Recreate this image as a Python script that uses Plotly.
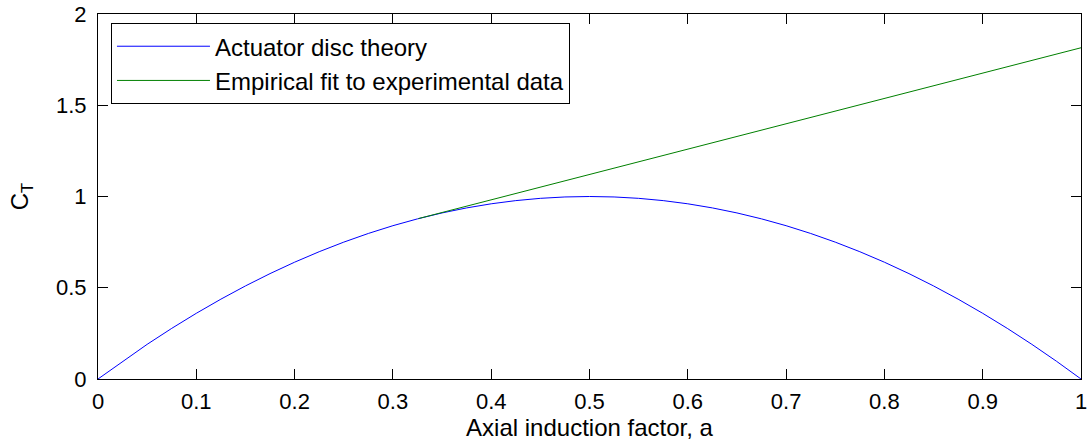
import plotly.graph_objects as go

# Actuator disc theory
a_disc = [0.0, 0.025, 0.05, 0.075, 0.10, 0.125, 0.15, 0.175, 0.20, 0.225, 0.25,
          0.275, 0.30, 0.325, 0.35, 0.375, 0.40, 0.425, 0.45, 0.475, 0.50,
          0.525, 0.55, 0.575, 0.60, 0.625, 0.65, 0.675, 0.70, 0.725, 0.75,
          0.775, 0.80, 0.825, 0.85, 0.875, 0.90, 0.925, 0.95, 0.975, 1.0]
ct_disc = [0.0, 0.0975, 0.19, 0.2775, 0.36, 0.4375, 0.51, 0.5775, 0.64, 0.6975, 0.75,
           0.7975, 0.84, 0.8775, 0.91, 0.9375, 0.96, 0.9775, 0.99, 0.9975, 1.00,
           0.9975, 0.99, 0.9775, 0.96, 0.9375, 0.91, 0.8775, 0.84, 0.7975, 0.75,
           0.6975, 0.64, 0.5775, 0.51, 0.4375, 0.36, 0.2775, 0.19, 0.0975, 0.0]

# Empirical fit to experimental data
a_emp = [0.326, 0.50, 0.75, 1.0]
ct_emp = [0.879, 1.121, 1.469, 1.815]

x_ticks = [0, 0.1, 0.2, 0.3, 0.4, 0.5, 0.6, 0.7, 0.8, 0.9, 1]
x_tick_labels = ["0", "0.1", "0.2", "0.3", "0.4", "0.5", "0.6", "0.7", "0.8", "0.9", "1"]
y_ticks = [0, 0.5, 1, 1.5, 2]
y_tick_labels = ["0", "0.5", "1", "1.5", "2"]

FONT = "Liberation Sans, Arial, sans-serif"

fig = go.Figure()
fig.add_trace(go.Scatter(x=a_disc, y=ct_disc, mode="lines",
                         line=dict(color="#0000FF", width=1),
                         name="Actuator disc theory"))
fig.add_trace(go.Scatter(x=a_emp, y=ct_emp, mode="lines",
                         line=dict(color="#008000", width=1),
                         name="Empirical fit to experimental data"))

axis_common = dict(showgrid=False, zeroline=False, showline=True, linecolor="black",
                   linewidth=1, mirror="ticks", ticks="inside", ticklen=10,
                   tickwidth=1, tickcolor="black", automargin=False,
                   tickfont=dict(family=FONT, size=22, color="black"))

fig.update_layout(
    width=1091, height=445,
    margin=dict(l=98, r=10, t=14, b=66),
    paper_bgcolor="white", plot_bgcolor="white",
    showlegend=True,
    legend=dict(x=0.0132, y=0.975, xanchor="left", yanchor="top",
                bordercolor="black", borderwidth=1, bgcolor="white",
                font=dict(family=FONT, size=24, color="black"),
                itemwidth=93, tracegroupgap=0),
    xaxis=dict(range=[0, 1], tickvals=x_ticks, ticktext=x_tick_labels,
               ticklabelstandoff=3,
               title=dict(text="Axial induction factor, a", standoff=1,
                          font=dict(family=FONT, size=24, color="black")),
               **axis_common),
    yaxis=dict(range=[0, 2], tickvals=y_ticks, ticktext=y_tick_labels,
               ticklabelstandoff=6,
               title=dict(text="C<sub>T</sub>", standoff=20,
                          font=dict(family=FONT, size=24, color="black")),
               **axis_common),
)

fig.write_html("out.html")
